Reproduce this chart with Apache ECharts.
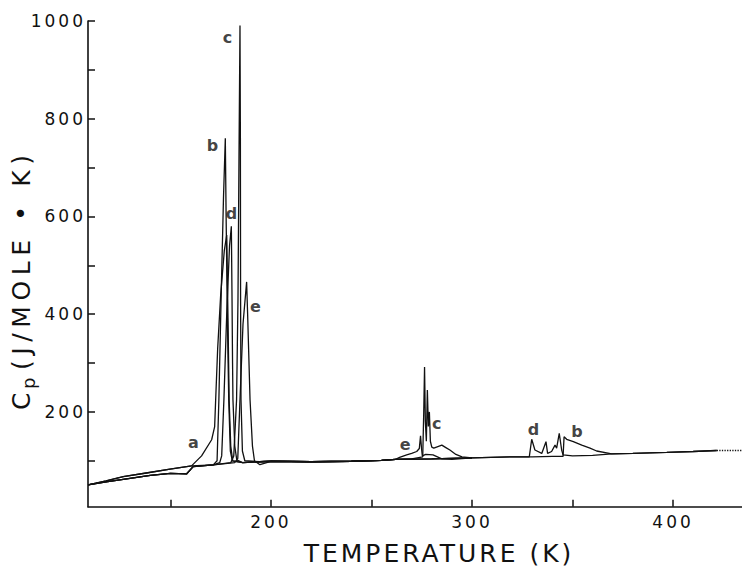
<!DOCTYPE html>
<html>
<head>
<meta charset="utf-8">
<script src="https://cdn.jsdelivr.net/npm/echarts@6/dist/echarts.min.js"></script>
<style>
html,body{margin:0;padding:0;background:#ffffff;}
#chart{width:742px;height:570px;}
#chart svg text{letter-spacing:3px;}
</style>
</head>
<body>
<div id="chart"></div>
<script>
// ---- data (T in K, Cp in J/mole K) ----
const tA  = [109, 118, 126.5, 138, 149.8, 160.5, 165.5, 170.5, 172.0, 172.5, 173.5, 175, 176.8, 178.0, 178.6, 179.2, 180, 181, 186, 194.5, 200, 220, 240, 255, 262, 280, 300];
const cpA = [50.6, 59, 67.6, 75, 82.7, 89.5, 110, 143, 170, 225, 330, 440, 530, 562, 400, 225, 130, 100, 96, 98, 99, 98, 99, 101, 103, 104, 106];

const tB  = [109, 118, 126.5, 140, 150, 158, 161.3, 171.3, 173.2, 174.1, 175.3, 176.4, 177.3, 177.7, 178.3, 179.0, 179.8, 180.8, 186, 194.5, 200, 220, 240, 255, 262, 280, 300, 320, 330, 340, 345.3, 345.8, 347.1, 350.4, 354.6, 358.7, 362, 369.5, 380, 396.9, 410, 421.7];
const cpB = [50.6, 57, 62, 70, 74, 73, 88, 91.5, 100, 225, 450, 640, 760, 600, 400, 225, 120, 100, 96, 98, 99, 98, 99, 101, 103, 104, 106, 108, 108, 109, 109, 149, 144, 139, 132, 126, 120, 114, 115, 117, 119, 121];

const tC  = [109, 118, 126.5, 140, 150, 158, 161.3, 171.3, 180, 181.5, 182.9, 183.6, 184.1, 184.6, 184.8, 184.9, 185.1, 185.8, 187, 194.5, 200, 220, 240, 255, 262, 270, 275.5, 276.0, 276.4, 276.8, 277.3, 277.8, 278.3, 278.8, 279.3, 280.0, 281, 283, 285, 287, 289, 292, 295, 300];
const cpC = [50.6, 57, 62, 70, 74, 73, 88, 91.5, 96, 110, 225, 430, 720, 991, 760, 430, 225, 120, 100, 98, 99, 98, 99, 101, 103, 104, 108, 200, 292, 180, 140, 245, 170, 200, 140, 128, 126, 129, 132, 127, 122, 113, 108, 106];

const tD  = [109, 118, 126.5, 138, 149.8, 160.5, 171.3, 174.5, 175.5, 176.6, 178.0, 179.4, 180.3, 180.6, 180.9, 181.1, 182, 183, 186, 194.5, 200, 220, 240, 255, 262, 280, 300, 320, 328.5, 329.7, 331.3, 334.7, 336.8, 337.6, 339.6, 341.3, 342.1, 343.4, 344.6, 345.3, 350, 360, 369.5, 380, 396.9, 410, 421.7];
const cpD = [50.6, 59, 67.6, 75, 82.7, 89.5, 91.5, 96, 110, 225, 400, 540, 580, 450, 300, 225, 130, 102, 96, 98, 99, 98, 99, 101, 103, 104, 106, 108, 108, 144, 122, 115, 139, 115, 119, 132, 126, 156, 122, 112, 110, 111, 114, 115, 117, 119, 121];

const tE  = [109, 118, 126.5, 140, 150, 158, 161.3, 171.3, 182, 183.5, 184.6, 186.1, 187.9, 188.4, 189.6, 190.8, 191.8, 194.5, 200, 220, 240, 255, 262, 264, 267.5, 270, 272.5, 273.8, 274.4, 274.9, 275.3, 277, 280.6, 285, 290, 300];
const cpE = [50.6, 57, 62, 70, 74, 73, 88, 91.5, 96, 105, 225, 380, 466, 400, 225, 130, 100, 92, 99, 98, 99, 101, 103, 107, 112, 115, 119, 125, 151, 125, 110, 113, 112, 104, 103, 106];

// extrapolated (dotted) end of the baseline
const tDot  = [421.7, 434.3];
const cpDot = [121, 121];

// curve letters
const labText = ['a', 'b', 'c', 'd', 'e', 'e', 'c', 'd', 'b'];
const labT    = [162.2, 171.6, 179.1, 181.1, 193.0, 267.5, 283.2, 331.3, 352.9];
const labCp   = [136.5, 746, 967, 607, 416.7, 132.4, 177, 163, 159];

// axis ticks and labels
const xTicks  = [150, 200, 250, 300, 350, 400];
const xLabels = [200, 300, 400];
const yTicks  = [100, 200, 300, 400, 500, 600, 700, 800, 900, 1000];
const yLabels = [200, 400, 600, 800, 1000];

// ---- chart ----
const FONT = 'DejaVu Sans';
const INK = '#111111';
function zip(t, c) { return t.map((v, i) => [v, c[i]]); }
function curve(t, c, type) {
  return {
    type: 'line', data: zip(t, c), showSymbol: false, symbol: 'none',
    lineStyle: { color: INK, width: 1.3, type: type || 'solid' },
    silent: true, animation: false, clip: true
  };
}

const chart = echarts.init(document.getElementById('chart'), null, { renderer: 'svg' });
chart.setOption({
  animation: false,
  backgroundColor: '#ffffff',
  grid: { left: 88, right: 0, top: 21, bottom: 63.3, containLabel: false },
  xAxis: {
    type: 'value', min: 109, max: 434.3,
    axisLine: { onZero: false, lineStyle: { color: INK, width: 1.6 } },
    axisTick: { inside: true, length: 7, customValues: xTicks, lineStyle: { color: INK, width: 1.5 } },
    axisLabel: { customValues: xLabels, margin: 7, fontSize: 17, color: INK, fontFamily: FONT, formatter: v => String(v) },
    splitLine: { show: false }
  },
  yAxis: {
    type: 'value', min: 6, max: 1000,
    axisLine: { show: true, onZero: false, lineStyle: { color: INK, width: 1.6 } },
    axisTick: { show: true, inside: true, length: 7, customValues: yTicks, lineStyle: { color: INK, width: 1.5 } },
    axisLabel: { customValues: yLabels, margin: 2, fontSize: 17, color: INK, fontFamily: FONT, formatter: v => String(v) },
    splitLine: { show: false }
  },
  series: [
    curve(tA, cpA), curve(tB, cpB), curve(tC, cpC), curve(tD, cpD), curve(tE, cpE),
    curve(tDot, cpDot, 'dotted'),
    {
      type: 'scatter', symbolSize: 0, silent: true,
      itemStyle: { color: INK },
      data: labT.map((t, i) => ({ value: [t, labCp[i]], name: labText[i] })),
      label: { show: true, position: 'inside', formatter: p => p.name,
               fontSize: 16, fontWeight: 'bold', color: INK, fontFamily: FONT,
               textBorderWidth: 0, textBorderColor: 'transparent' }
    }
  ],
  graphic: [
    {
      type: 'text', x: 439, y: 553,
      style: { text: 'TEMPERATURE (K)', fontSize: 25, fontFamily: FONT, fill: INK, align: 'center', verticalAlign: 'middle' }
    },
    {
      type: 'group', x: 21, y: 410, rotation: Math.PI / 2,
      children: [
        { type: 'text', x: 0, y: 0, style: { text: 'C', fontSize: 25, fontFamily: FONT, fill: INK, align: 'left', verticalAlign: 'middle' } },
        { type: 'text', x: 21, y: 7, style: { text: 'p', fontSize: 18, fontFamily: FONT, fill: INK, align: 'left', verticalAlign: 'middle' } },
        { type: 'text', x: 40, y: 0, style: { text: '(J/MOLE • K)', fontSize: 25, fontFamily: FONT, fill: INK, align: 'left', verticalAlign: 'middle' } }
      ]
    }
  ]
});
// the hand lettering of the y title is wider spaced than the other text
document.querySelectorAll('#chart svg text').forEach(el => {
  if (el.textContent === '(J/MOLE • K)') el.style.letterSpacing = '5.6px';
});
</script>
</body>
</html>
